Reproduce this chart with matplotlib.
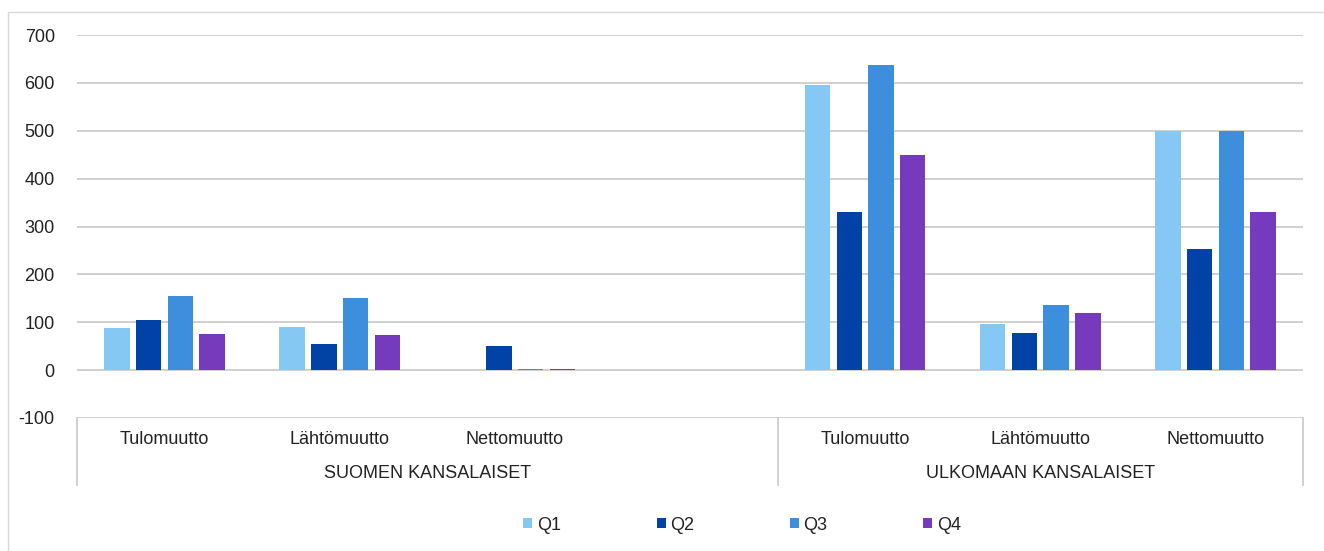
import matplotlib.pyplot as plt
import numpy as np
from matplotlib.patches import Rectangle
import matplotlib.transforms as mtransforms

plt.rcParams['font.family'] = ['Liberation Sans', 'DejaVu Sans']
plt.rcParams['axes.unicode_minus'] = False

# --- data ---
categories = ["Tulomuutto", "Lähtömuutto", "Nettomuutto", "",
              "Tulomuutto", "Lähtömuutto", "Nettomuutto"]
groups = ["SUOMEN KANSALAISET", "ULKOMAAN KANSALAISET"]
series = ["Q1", "Q2", "Q3", "Q4"]
q1 = [89, 91, 0, 0, 595, 96, 500]
q2 = [104, 55, 50, 0, 330, 78, 253]
q3 = [154, 151, 3, 0, 637, 137, 500]
q4 = [76, 73, 3, 0, 449, 119, 330]
yticks = [-100, 0, 100, 200, 300, 400, 500, 600, 700]

colors = ["#86c8f4", "#0042a6", "#3e8ede", "#763abc"]

W, H = 1324, 551
fig = plt.figure(figsize=(W / 100, H / 100), dpi=100)
ax = fig.add_axes([77 / W, 1 - 418 / H, (1303 - 77) / W, (418 - 35) / H])

# outer frame (only top/left visible in the image)
fig.patches.append(Rectangle((8 / W, -0.1), 1.2, 1 - 12 / H + 0.1,
                             transform=fig.transFigure, fill=False,
                             edgecolor="#d9d9d9", lw=1.0))

x = np.arange(len(categories))
bw = 0.145
step = 0.181
for i, (vals, col, name) in enumerate(zip([q1, q2, q3, q4], colors, series)):
    ax.bar(x + (i - 1.5) * step, vals, width=bw, color=col, label=name, zorder=3)

ax.set_xlim(-0.5, len(categories) - 0.5)
ax.set_ylim(-100, 700)
ax.set_yticks(yticks)
ax.tick_params(axis="y", length=0, pad=16, labelsize=13, labelcolor="#222222")
ax.set_xticks([])
for s in ax.spines.values():
    s.set_visible(False)
for t in yticks:
    ax.axhline(t, color="#c8c8c8", lw=1.2, zorder=1)

trans = mtransforms.blended_transform_factory(ax.transData, ax.transAxes)
for xi, lab in zip(x, categories):
    ax.text(xi, -0.057, lab, transform=trans, ha="center", va="center",
            fontsize=13, color="#222222")
ax.text(1.5, -0.146, groups[0], transform=trans, ha="center", va="center",
        fontsize=13, color="#222222")
ax.text(5.0, -0.146, groups[1], transform=trans, ha="center", va="center",
        fontsize=13, color="#222222")
for sx in [-0.5, 3.5, 6.5]:
    ax.plot([sx, sx], [0, -0.175], transform=trans, color="#c8c8c8",
            lw=1.2, clip_on=False)

leg = fig.legend(loc="center", bbox_to_anchor=(742 / W, 1 - 525 / H), ncol=4,
                 frameon=False, fontsize=13, handlelength=0.5, handleheight=0.5,
                 handletextpad=0.25, columnspacing=5.3)
for t in leg.get_texts():
    t.set_color("#222222")

fig.savefig("out.png", dpi=100)
